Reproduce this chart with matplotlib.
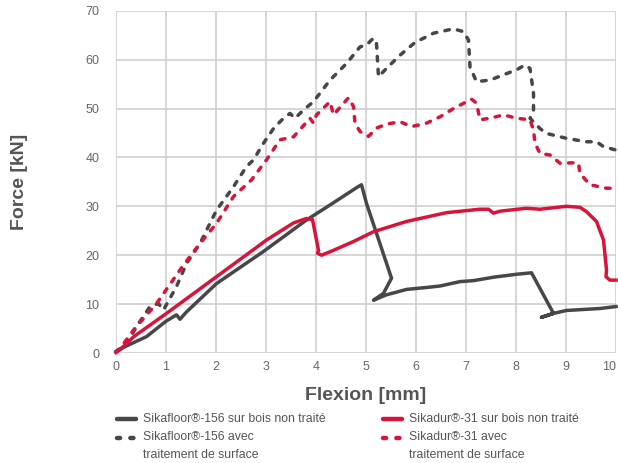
import matplotlib
matplotlib.use('Agg')
import matplotlib.pyplot as plt
from matplotlib.lines import Line2D

# Courbes force / flexion (mm, kN)
sikafloor_x = [0, 0.18, 0.61, 1.0, 1.21, 1.28, 1.41, 2.01, 2.94, 3.81, 4.3, 4.6, 4.84, 4.91,
               5.01, 5.51, 5.35, 5.15, 5.41, 5.81, 6.21, 6.48, 6.88, 7.15, 7.55, 8.01, 8.31,
               8.75, 8.51, 8.75, 9.01, 9.68, 10.0]
sikafloor_y = [0.3, 1.3, 3.35, 6.5, 7.8, 6.9, 8.4, 14.2, 20.7, 27.2, 30.4, 32.4, 34.0, 34.4,
               30.6, 15.3, 12.2, 10.8, 11.9, 13.0, 13.4, 13.7, 14.6, 14.8, 15.5, 16.1, 16.4,
               8.1, 7.3, 8.1, 8.7, 9.1, 9.5]

sikadur_x = [0, 0.18, 0.35, 1.01, 2.01, 3.01, 3.55, 3.81, 3.93, 4.01, 4.05, 4.03, 4.11, 4.35,
             4.75, 5.15, 5.81, 6.61, 7.28, 7.45, 7.55, 7.68, 8.21, 8.48, 9.01, 9.28, 9.41,
             9.61, 9.75, 9.81, 9.80, 9.88, 10.0]
sikadur_y = [0.1, 1.6, 3.3, 8.1, 15.6, 23.1, 26.6, 27.5, 27.3, 23.1, 21.0, 20.4, 20.0, 21.0,
             22.8, 24.8, 26.9, 28.7, 29.4, 29.4, 28.6, 29.0, 29.6, 29.4, 30.0, 29.8, 28.9,
             26.9, 23.1, 17.0, 15.6, 14.9, 14.9]

sikafloor_trt_x = [0, 0.18, 0.41, 0.68, 0.85, 0.95, 1.21, 1.41, 1.68, 2.01, 2.35, 2.48, 2.61,
                   2.75, 2.95, 3.15, 3.31, 3.48, 3.58, 3.75, 3.95, 4.28, 4.61, 4.88, 5.01, 5.15,
                   5.21, 5.25, 5.41, 5.68, 5.98, 6.35, 6.75, 6.95, 7.05, 7.08, 7.21, 7.48,
                   7.75, 8.01, 8.18, 8.28, 8.35, 8.35, 8.28, 8.48, 8.61, 9.01, 9.41, 9.61,
                   9.75, 10.0]
sikafloor_trt_y = [0.3, 1.3, 5.4, 9.5, 10.1, 8.8, 13.6, 18.3, 22.4, 29.2, 34.0, 36.1, 38.1,
                   39.5, 42.9, 45.9, 47.6, 49.0, 48.0, 49.7, 51.4, 55.8, 59.2, 62.6, 63.0, 64.4,
                   63.3, 56.5, 58.2, 60.9, 63.5, 65.4, 66.3, 65.7, 64.0, 58.5, 55.5, 55.8,
                   56.9, 57.9, 58.9, 58.2, 53.1, 49.7, 48.0, 45.9, 44.9, 43.9, 43.2, 43.2,
                   42.2, 41.5]

sikadur_trt_x = [0, 0.18, 0.35, 0.81, 1.35, 1.68, 2.01, 2.35, 2.71, 3.01, 3.28, 3.55, 3.88,
                 3.95, 4.01, 4.28, 4.35, 4.65, 4.75, 4.78, 4.88, 5.05, 5.21, 5.41, 5.68, 5.91,
                 6.21, 6.48, 6.75, 7.11, 7.21, 7.28, 7.48, 7.75, 8.01, 8.28, 8.35, 8.38,
                 8.48, 8.68, 8.88, 9.15, 9.25, 9.28, 9.48, 9.81, 10.0]
sikadur_trt_y = [0.1, 2.3, 4.7, 10.1, 18.0, 22.4, 26.5, 32.0, 35.4, 39.5, 43.6, 44.2, 48.0,
                 47.0, 48.7, 51.4, 48.7, 52.2, 50.4, 47.0, 45.3, 44.3, 46.0, 46.8, 47.3, 46.3,
                 47.0, 48.3, 50.0, 51.9, 51.1, 47.7, 48.0, 48.7, 48.0, 47.7, 45.6, 42.9,
                 40.8, 40.5, 38.8, 38.9, 38.8, 36.7, 34.4, 33.7, 33.7]

labels = ["Sikafloor\u00ae-156 sur bois non traité",
          "Sikafloor\u00ae-156 avec\ntraitement de surface",
          "Sikadur\u00ae-31 sur bois non traité",
          "Sikadur\u00ae-31 avec\ntraitement de surface"]

GRIS = '#474747'
ROUGE = '#d8143a'
TEXTE = '#555555'
W, H = 618, 463

plt.rcParams['font.family'] = ['Liberation Sans', 'DejaVu Sans']

fig = plt.figure(figsize=(W / 100, H / 100), dpi=100)
ax = fig.add_axes([116 / W, 1 - 353 / H, 500 / W, 342.3 / H])

pointille = (0, (1.3, 2.4))
ax.plot(sikafloor_x, sikafloor_y, color=GRIS, lw=2.5, solid_joinstyle='round', clip_on=False, zorder=3)
ax.plot(sikafloor_trt_x, sikafloor_trt_y, color=GRIS, lw=2.5, ls=pointille,
        dash_capstyle='round', clip_on=False, zorder=3)
ax.plot(sikadur_x, sikadur_y, color=ROUGE, lw=2.5, solid_joinstyle='round', clip_on=False, zorder=4)
ax.plot(sikadur_trt_x, sikadur_trt_y, color=ROUGE, lw=2.5, ls=pointille,
        dash_capstyle='round', clip_on=False, zorder=4)

ax.set_xlim(0, 10)
ax.set_ylim(0, 70)
ax.set_xticks(range(0, 11))
ax.set_yticks(range(0, 71, 10))
ax.grid(True, color='#cccccc', lw=1.1)
ax.set_axisbelow(True)
for s in ax.spines.values():
    s.set_visible(False)
ax.axhline(0, color='#d9d9d9', lw=2, zorder=1)
ax.tick_params(length=0, colors='#666666', labelsize=9)
ax.tick_params(axis='x', pad=6)
ax.tick_params(axis='y', pad=12)
ax.get_xticklabels()[-1].set_horizontalalignment('right')

fig.text(20 / W, 1 - 182 / H, 'Force [kN]', rotation=90, ha='center', va='center',
         fontsize=14, fontweight='bold', color=TEXTE)
fig.text(366 / W, 1 - 395 / H, 'Flexion [mm]', ha='center', va='center',
         fontsize=14, fontweight='bold', color=TEXTE)

# légende dessinée à la main (repère en pixels)
entrees = [(117, 419, GRIS, '-'), (117, 438, GRIS, '--'),
           (383, 419, ROUGE, '-'), (383, 438, ROUGE, '--')]
for (x0, y0, c, style), lab in zip(entrees, labels):
    yy = 1 - y0 / H
    if style == '-':
        ln = Line2D([x0 / W, (x0 + 19) / W], [yy, yy], color=c, lw=3.2,
                    solid_capstyle='round', transform=fig.transFigure)
    else:
        ln = Line2D([x0 / W, (x0 + 19) / W], [yy, yy], color=c, lw=3.2,
                    ls=(0, (0.7, 2.3)), dash_capstyle='round', transform=fig.transFigure)
    fig.add_artist(ln)
    # haut du texte calé pour que la première ligne soit centrée sur le repère
    fig.text((x0 + 26) / W, yy + 6.5 / H, lab, ha='left', va='top', fontsize=8.8,
             color=TEXTE, linespacing=1.65)

fig.savefig('out.png', dpi=100)
